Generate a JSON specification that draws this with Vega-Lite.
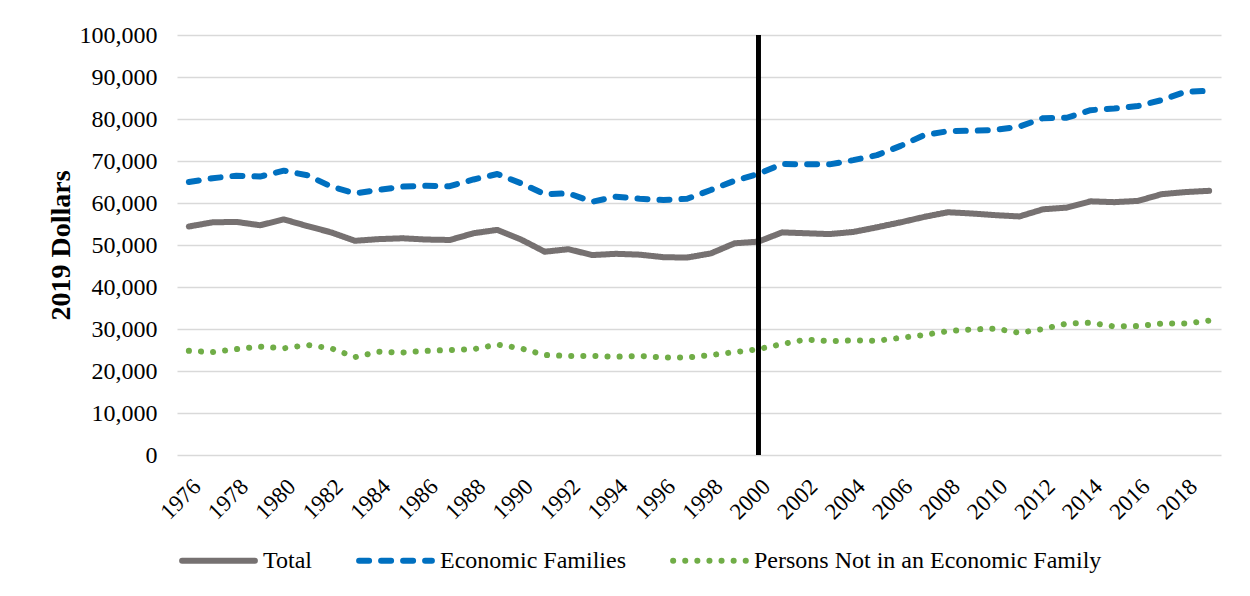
{
  "$schema": "https://vega.github.io/schema/vega-lite/v6.json",
  "autosize": "none",
  "width": 1044,
  "height": 420,
  "padding": {"left": 177, "top": 35, "right": 29, "bottom": 141},
  "background": "white",
  "config": {
    "font": "Liberation Serif",
    "view": {"stroke": null}
  },
  "data": {
    "values": [
      {"year": 1976, "Total": 54400, "Economic Families": 65000, "Persons Not in an Economic Family": 24800},
      {"year": 1977, "Total": 55400, "Economic Families": 65900, "Persons Not in an Economic Family": 24500},
      {"year": 1978, "Total": 55500, "Economic Families": 66500, "Persons Not in an Economic Family": 25200},
      {"year": 1979, "Total": 54700, "Economic Families": 66300, "Persons Not in an Economic Family": 25800},
      {"year": 1980, "Total": 56100, "Economic Families": 67700, "Persons Not in an Economic Family": 25400},
      {"year": 1981, "Total": 54500, "Economic Families": 66600, "Persons Not in an Economic Family": 26200},
      {"year": 1982, "Total": 53000, "Economic Families": 63900, "Persons Not in an Economic Family": 25400},
      {"year": 1983, "Total": 51000, "Economic Families": 62300, "Persons Not in an Economic Family": 23300},
      {"year": 1984, "Total": 51400, "Economic Families": 63100, "Persons Not in an Economic Family": 24600},
      {"year": 1985, "Total": 51600, "Economic Families": 63900, "Persons Not in an Economic Family": 24400},
      {"year": 1986, "Total": 51300, "Economic Families": 64100, "Persons Not in an Economic Family": 24800},
      {"year": 1987, "Total": 51200, "Economic Families": 64000, "Persons Not in an Economic Family": 25000},
      {"year": 1988, "Total": 52800, "Economic Families": 65600, "Persons Not in an Economic Family": 25200},
      {"year": 1989, "Total": 53600, "Economic Families": 66900, "Persons Not in an Economic Family": 26300},
      {"year": 1990, "Total": 51300, "Economic Families": 64700, "Persons Not in an Economic Family": 25400},
      {"year": 1991, "Total": 48400, "Economic Families": 62100, "Persons Not in an Economic Family": 23800},
      {"year": 1992, "Total": 49000, "Economic Families": 62300, "Persons Not in an Economic Family": 23600},
      {"year": 1993, "Total": 47600, "Economic Families": 60300, "Persons Not in an Economic Family": 23600},
      {"year": 1994, "Total": 47900, "Economic Families": 61500, "Persons Not in an Economic Family": 23400},
      {"year": 1995, "Total": 47700, "Economic Families": 61000, "Persons Not in an Economic Family": 23600},
      {"year": 1996, "Total": 47100, "Economic Families": 60700, "Persons Not in an Economic Family": 23200},
      {"year": 1997, "Total": 47000, "Economic Families": 61000, "Persons Not in an Economic Family": 23200},
      {"year": 1998, "Total": 48000, "Economic Families": 63100, "Persons Not in an Economic Family": 23800},
      {"year": 1999, "Total": 50400, "Economic Families": 65300, "Persons Not in an Economic Family": 24500},
      {"year": 2000, "Total": 50800, "Economic Families": 66900, "Persons Not in an Economic Family": 25200},
      {"year": 2001, "Total": 53000, "Economic Families": 69300, "Persons Not in an Economic Family": 26400},
      {"year": 2002, "Total": 52800, "Economic Families": 69200, "Persons Not in an Economic Family": 27500},
      {"year": 2003, "Total": 52600, "Economic Families": 69200, "Persons Not in an Economic Family": 27100},
      {"year": 2004, "Total": 53100, "Economic Families": 70200, "Persons Not in an Economic Family": 27300},
      {"year": 2005, "Total": 54200, "Economic Families": 71400, "Persons Not in an Economic Family": 27200},
      {"year": 2006, "Total": 55400, "Economic Families": 73600, "Persons Not in an Economic Family": 27900},
      {"year": 2007, "Total": 56700, "Economic Families": 76200, "Persons Not in an Economic Family": 28600},
      {"year": 2008, "Total": 57800, "Economic Families": 77100, "Persons Not in an Economic Family": 29500},
      {"year": 2009, "Total": 57500, "Economic Families": 77200, "Persons Not in an Economic Family": 29900},
      {"year": 2010, "Total": 57100, "Economic Families": 77400, "Persons Not in an Economic Family": 30100},
      {"year": 2011, "Total": 56800, "Economic Families": 78200, "Persons Not in an Economic Family": 29100},
      {"year": 2012, "Total": 58500, "Economic Families": 80200, "Persons Not in an Economic Family": 30000},
      {"year": 2013, "Total": 58900, "Economic Families": 80300, "Persons Not in an Economic Family": 31300},
      {"year": 2014, "Total": 60400, "Economic Families": 82100, "Persons Not in an Economic Family": 31500},
      {"year": 2015, "Total": 60200, "Economic Families": 82500, "Persons Not in an Economic Family": 30600},
      {"year": 2016, "Total": 60500, "Economic Families": 83100, "Persons Not in an Economic Family": 30700},
      {"year": 2017, "Total": 62100, "Economic Families": 84500, "Persons Not in an Economic Family": 31300},
      {"year": 2018, "Total": 62600, "Economic Families": 86500, "Persons Not in an Economic Family": 31300},
      {"year": 2019, "Total": 62900, "Economic Families": 86700, "Persons Not in an Economic Family": 32000}
    ]
  },
  "layer": [
    {
      "transform": [
        {"fold": ["Total", "Economic Families", "Persons Not in an Economic Family"], "as": ["series", "value"]}
      ],
      "mark": {"type": "line", "strokeCap": "round", "strokeJoin": "round"},
      "encoding": {
        "x": {
          "field": "year", "type": "quantitative",
          "scale": {"domain": [1975.5, 2019.5], "nice": false, "zero": false},
          "axis": {
            "title": null,
            "values": [1976, 1978, 1980, 1982, 1984, 1986, 1988, 1990, 1992, 1994, 1996, 1998, 2000, 2002, 2004, 2006, 2008, 2010, 2012, 2014, 2016, 2018],
            "format": "d",
            "labelAngle": -45,
            "labelFontSize": 23,
            "labelColor": "#000000",
            "labelPadding": 20,
            "ticks": false,
            "domain": false,
            "grid": false,
            "labelFlush": false,
            "labelOverlap": false
          }
        },
        "y": {
          "field": "value", "type": "quantitative",
          "scale": {"domain": [0, 100000], "nice": false},
          "axis": {
            "title": "2019 Dollars",
            "titleFontSize": 28,
            "titleFontWeight": "bold",
            "titleColor": "#000000",
            "titlePadding": 4,
            "values": [0, 10000, 20000, 30000, 40000, 50000, 60000, 70000, 80000, 90000, 100000],
            "format": ",.0f",
            "labelFontSize": 24,
            "labelColor": "#000000",
            "labelPadding": 20,
            "ticks": false,
            "domain": false,
            "grid": true,
            "gridColor": "#d9d9d9",
            "gridWidth": 1.5
          }
        },
        "color": {
          "field": "series", "type": "nominal",
          "scale": {
            "domain": ["Total", "Economic Families", "Persons Not in an Economic Family"],
            "range": ["#767171", "#0070C0", "#70AD47"]
          },
          "legend": {
            "title": null,
            "orient": "none",
            "direction": "horizontal",
            "legendX": 2,
            "legendY": 486,
            "symbolType": "stroke",
            "symbolSize": 5300,
            "labelFontSize": 24,
            "labelColor": "#000000",
            "labelOffset": 5,
            "labelLimit": 0,
            "columnPadding": 35,
            "encode": {"symbols": {"update": {"strokeCap": {"value": "round"}}}}
          }
        },
        "strokeDash": {
          "field": "series", "type": "nominal",
          "scale": {
            "domain": ["Total", "Economic Families", "Persons Not in an Economic Family"],
            "range": [[1, 0], [10, 12], [0.1, 12]]
          }
        },
        "strokeWidth": {
          "field": "series", "type": "nominal",
          "scale": {
            "domain": ["Total", "Economic Families", "Persons Not in an Economic Family"],
            "range": [6, 6, 4.5]
          }
        }
      }
    },
    {
      "mark": {"type": "rule", "color": "#000000", "strokeWidth": 3.5},
      "encoding": {"x": {"datum": 2000, "type": "quantitative"}}
    }
  ]
}
